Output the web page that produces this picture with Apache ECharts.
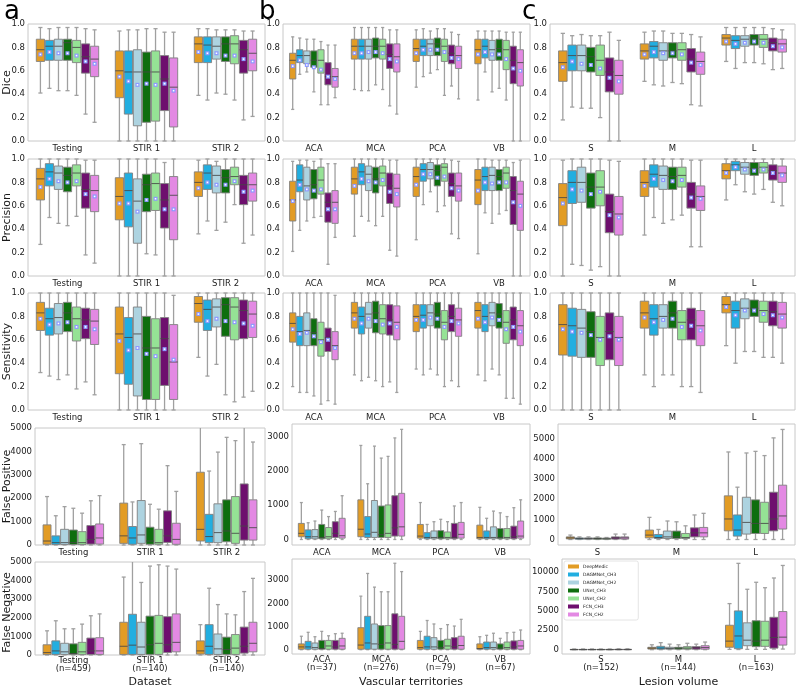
<!DOCTYPE html>
<html><head><meta charset="utf-8">
<script src="https://cdn.jsdelivr.net/npm/echarts@6/dist/echarts.min.js"></script>
<style>html,body{margin:0;padding:0;background:#fff}#c{width:798px;height:689px}</style>
</head><body><div id="c"></div><script>
// ---------- categories / labels ----------
const methods = ['DeepMedic','DAGMNet_CH3','DAGMNet_CH2','UNet_CH3','UNet_CH2','FCN_CH3','FCN_CH2'];
const methodColors = ['#E29C25','#22AEE0','#ADD3E0','#0E6E0E','#95E295','#6E0F6E','#E389E3'];
const datasetCats = ['Testing','STIR 1','STIR 2'];
const vascularCats = ['ACA','MCA','PCA','VB'];
const lesionCats = ['S','M','L'];
const datasetN = [459,140,140];
const vascularN = [37,276,79,67];
const lesionN = [152,144,163];
const rowNames = ['Dice','Precision','Sensitivity','False Positive','False Negative'];
const colXNames = ['Dataset','Vascular territories','Lesion volume'];
const panelLetters = ['a','b','c'];
const ticksFpB = [0,1000,2000,3000];
const ticksFpAC = [0,1000,2000,3000,4000,5000];
const ticksFnB = [0,1000,2000,3000];
const ticksFnC = [0,2500,5000,7500,10000];

// ---------- values: per method, per category: [lowWhisker, q1, median, q3, highWhisker, mean] ----------
const diceA = [
 [[0.41,0.68,0.78,0.87,0.97,0.74],[0,0.37,0.60,0.77,0.94,0.55],[0.39,0.67,0.83,0.89,0.96,0.76]],
 [[0.45,0.69,0.81,0.86,0.96,0.76],[0,0.23,0.59,0.77,0.95,0.51],[0.35,0.67,0.82,0.89,0.96,0.75]],
 [[0.43,0.69,0.81,0.87,0.97,0.75],[0,0.13,0.59,0.78,0.95,0.48],[0.41,0.70,0.81,0.89,0.95,0.75]],
 [[0.43,0.69,0.84,0.87,0.97,0.75],[0,0.16,0.59,0.76,0.96,0.49],[0.40,0.68,0.83,0.89,0.95,0.73]],
 [[0.39,0.67,0.80,0.86,0.97,0.73],[0,0.17,0.59,0.77,0.96,0.48],[0.35,0.66,0.83,0.90,0.95,0.73]],
 [[0.23,0.58,0.72,0.83,0.96,0.68],[0,0.26,0.53,0.73,0.93,0.49],[0.18,0.58,0.78,0.86,0.94,0.70]],
 [[0.16,0.55,0.70,0.81,0.95,0.66],[0,0.12,0.46,0.71,0.93,0.43],[0.21,0.60,0.75,0.87,0.94,0.68]]
];
const diceB = [
 [[0.27,0.53,0.69,0.75,0.89,0.64],[0.44,0.70,0.81,0.87,0.97,0.75],[0.46,0.68,0.79,0.87,0.95,0.75],[0.35,0.66,0.78,0.87,0.94,0.74]],
 [[0.57,0.67,0.73,0.78,0.88,0.69],[0.43,0.70,0.81,0.87,0.97,0.75],[0.55,0.73,0.81,0.87,0.96,0.78],[0.59,0.71,0.81,0.87,0.94,0.76]],
 [[0.59,0.66,0.73,0.77,0.87,0.65],[0.43,0.70,0.81,0.87,0.97,0.76],[0.58,0.73,0.83,0.87,0.94,0.78],[0.42,0.69,0.78,0.86,0.94,0.74]],
 [[0.42,0.63,0.69,0.77,0.87,0.63],[0.48,0.71,0.81,0.88,0.97,0.76],[0.61,0.73,0.83,0.88,0.96,0.78],[0.45,0.69,0.79,0.87,0.94,0.74]],
 [[0.31,0.58,0.69,0.78,0.85,0.61],[0.44,0.70,0.81,0.87,0.97,0.75],[0.39,0.68,0.81,0.87,0.96,0.76],[0.35,0.61,0.78,0.86,0.93,0.70]],
 [[0.31,0.48,0.55,0.67,0.82,0.55],[0.30,0.62,0.74,0.83,0.95,0.70],[0.47,0.66,0.75,0.82,0.93,0.71],[0,0.49,0.69,0.81,0.93,0.62]],
 [[0.37,0.46,0.55,0.62,0.82,0.53],[0.23,0.59,0.72,0.83,0.95,0.68],[0.36,0.62,0.73,0.81,0.91,0.70],[0,0.47,0.67,0.78,0.93,0.60]]
];
const diceC = [
 [[0.18,0.51,0.67,0.77,0.92,0.63],[0.51,0.70,0.77,0.83,0.93,0.74],[0.68,0.82,0.88,0.91,0.97,0.85]],
 [[0.29,0.60,0.73,0.82,0.90,0.68],[0.48,0.71,0.81,0.85,0.94,0.76],[0.62,0.79,0.86,0.90,0.97,0.83]],
 [[0.28,0.60,0.73,0.82,0.91,0.66],[0.47,0.69,0.77,0.84,0.94,0.75],[0.67,0.81,0.87,0.90,0.97,0.84]],
 [[0.28,0.59,0.72,0.80,0.90,0.65],[0.50,0.71,0.77,0.84,0.92,0.75],[0.67,0.82,0.88,0.91,0.97,0.85]],
 [[0.20,0.56,0.69,0.82,0.90,0.62],[0.49,0.69,0.78,0.84,0.92,0.74],[0.66,0.80,0.87,0.91,0.97,0.84]],
 [[0,0.42,0.59,0.71,0.93,0.54],[0.31,0.59,0.70,0.79,0.91,0.67],[0.61,0.77,0.84,0.88,0.96,0.81]],
 [[0,0.40,0.56,0.69,0.86,0.51],[0.30,0.57,0.68,0.76,0.89,0.65],[0.62,0.76,0.83,0.87,0.95,0.80]]
];
const precA = [
 [[0.27,0.65,0.83,0.92,1.0,0.76],[0,0.48,0.68,0.84,1.0,0.62],[0.36,0.68,0.80,0.89,0.99,0.75]],
 [[0.50,0.77,0.89,0.96,1.0,0.83],[0,0.42,0.73,0.88,1.0,0.62],[0.47,0.74,0.88,0.95,1.0,0.80]],
 [[0.45,0.74,0.88,0.94,1.0,0.81],[0,0.28,0.64,0.83,1.0,0.55],[0.39,0.71,0.86,0.94,0.98,0.78]],
 [[0.43,0.72,0.86,0.93,1.0,0.80],[0.19,0.55,0.78,0.87,1.0,0.65],[0.46,0.71,0.84,0.91,1.0,0.78]],
 [[0.51,0.77,0.88,0.95,1.0,0.81],[0.18,0.56,0.79,0.88,1.0,0.66],[0.61,0.78,0.85,0.93,1.0,0.81]],
 [[0.18,0.58,0.74,0.88,0.99,0.70],[0,0.41,0.65,0.79,0.97,0.57],[0.28,0.61,0.78,0.86,1.0,0.72]],
 [[0.11,0.55,0.73,0.86,0.99,0.68],[0,0.31,0.69,0.85,1.0,0.57],[0.35,0.64,0.78,0.88,1.0,0.73]]
];
const precB = [
 [[0.21,0.47,0.65,0.81,0.98,0.64],[0.34,0.70,0.83,0.93,1.0,0.77],[0.31,0.68,0.85,0.93,1.0,0.78],[0.19,0.61,0.82,0.91,1.0,0.73]],
 [[0.39,0.72,0.82,0.95,0.99,0.78],[0.51,0.78,0.89,0.96,1.0,0.83],[0.61,0.81,0.91,0.96,1.0,0.87],[0.54,0.73,0.85,0.93,1.0,0.80]],
 [[0.47,0.65,0.77,0.93,0.99,0.74],[0.47,0.73,0.87,0.94,1.0,0.81],[0.72,0.83,0.91,0.97,1.0,0.87],[0.45,0.73,0.86,0.93,0.99,0.79]],
 [[0.50,0.66,0.78,0.91,0.98,0.73],[0.43,0.71,0.83,0.93,1.0,0.80],[0.55,0.77,0.90,0.95,1.0,0.84],[0.53,0.73,0.85,0.91,0.99,0.80]],
 [[0.51,0.70,0.82,0.93,1.0,0.74],[0.51,0.77,0.88,0.94,1.0,0.82],[0.60,0.81,0.93,0.96,1.0,0.85],[0.56,0.75,0.88,0.93,0.99,0.80]],
 [[0.10,0.46,0.63,0.71,0.96,0.57],[0.22,0.62,0.77,0.88,0.99,0.72],[0.36,0.68,0.79,0.88,0.99,0.75],[0,0.44,0.73,0.85,0.97,0.63]],
 [[0.33,0.45,0.63,0.73,0.96,0.57],[0.17,0.59,0.75,0.87,0.99,0.70],[0.32,0.64,0.77,0.88,0.98,0.73],[0,0.39,0.70,0.81,0.99,0.60]]
];
const precC = [
 [[0,0.43,0.67,0.79,0.99,0.62],[0.35,0.68,0.80,0.90,1.0,0.77],[0.65,0.83,0.90,0.96,1.0,0.88]],
 [[0.10,0.62,0.80,0.90,1.0,0.74],[0.50,0.76,0.87,0.95,1.0,0.83],[0.78,0.90,0.95,0.98,1.0,0.93]],
 [[0.09,0.63,0.80,0.93,1.0,0.73],[0.45,0.74,0.86,0.94,1.0,0.82],[0.72,0.87,0.93,0.97,1.0,0.91]],
 [[0.05,0.58,0.76,0.88,1.0,0.70],[0.48,0.74,0.85,0.93,1.0,0.81],[0.70,0.86,0.92,0.97,1.0,0.90]],
 [[0.08,0.60,0.76,0.90,1.0,0.72],[0.52,0.76,0.86,0.93,1.0,0.82],[0.74,0.88,0.93,0.97,1.0,0.91]],
 [[0,0.37,0.55,0.70,0.99,0.52],[0.25,0.58,0.70,0.80,0.99,0.67],[0.63,0.82,0.90,0.95,1.0,0.88]],
 [[0,0.35,0.53,0.68,0.98,0.50],[0.25,0.56,0.68,0.77,0.99,0.66],[0.60,0.80,0.88,0.94,1.0,0.86]]
];
const sensA = [
 [[0.32,0.68,0.83,0.92,1.0,0.78],[0,0.31,0.65,0.88,1.0,0.59],[0.45,0.75,0.91,0.97,1.0,0.82]],
 [[0.29,0.64,0.78,0.87,1.0,0.73],[0,0.22,0.62,0.79,1.0,0.51],[0.29,0.68,0.86,0.94,1.0,0.76]],
 [[0.26,0.65,0.79,0.91,1.0,0.74],[0,0.12,0.65,0.88,1.0,0.53],[0.39,0.71,0.88,0.95,1.0,0.78]],
 [[0.30,0.67,0.83,0.92,1.0,0.75],[0,0.09,0.53,0.80,1.0,0.48],[0.13,0.63,0.90,0.96,1.0,0.76]],
 [[0.18,0.59,0.78,0.88,1.0,0.71],[0,0.09,0.53,0.78,1.0,0.46],[0.07,0.60,0.88,0.96,1.0,0.75]],
 [[0.24,0.61,0.77,0.87,1.0,0.71],[0,0.21,0.61,0.79,1.0,0.52],[0.11,0.61,0.85,0.94,1.0,0.74]],
 [[0.13,0.56,0.76,0.86,1.0,0.69],[0,0.09,0.41,0.73,0.98,0.43],[0.16,0.62,0.82,0.93,1.0,0.72]]
];
const sensB = [
 [[0.20,0.58,0.74,0.83,1.0,0.69],[0.30,0.70,0.83,0.92,1.0,0.78],[0.35,0.67,0.80,0.90,1.0,0.77],[0.30,0.70,0.85,0.92,1.0,0.78]],
 [[0.15,0.55,0.67,0.80,1.0,0.65],[0.25,0.65,0.80,0.88,1.0,0.74],[0.30,0.70,0.81,0.90,1.0,0.77],[0.25,0.67,0.80,0.90,1.0,0.75]],
 [[0.15,0.55,0.68,0.83,1.0,0.66],[0.28,0.70,0.82,0.92,1.0,0.78],[0.35,0.72,0.83,0.90,1.0,0.79],[0.35,0.72,0.83,0.92,1.0,0.79]],
 [[0.12,0.55,0.66,0.78,1.0,0.63],[0.25,0.66,0.83,0.93,1.0,0.76],[0.30,0.70,0.82,0.92,1.0,0.78],[0.30,0.70,0.82,0.91,1.0,0.77]],
 [[0.05,0.46,0.60,0.75,1.0,0.58],[0.20,0.65,0.78,0.90,1.0,0.73],[0.20,0.60,0.75,0.85,1.0,0.71],[0.10,0.57,0.75,0.85,1.0,0.69]],
 [[0.08,0.50,0.62,0.70,1.0,0.60],[0.24,0.64,0.77,0.90,1.0,0.74],[0.25,0.67,0.80,0.90,1.0,0.76],[0.10,0.60,0.77,0.88,1.0,0.71]],
 [[0.05,0.43,0.55,0.67,0.98,0.53],[0.15,0.60,0.75,0.89,1.0,0.71],[0.20,0.63,0.77,0.87,1.0,0.74],[0.05,0.55,0.72,0.85,1.0,0.67]]
];
const sensC = [
 [[0,0.47,0.73,0.90,1.0,0.69],[0.30,0.70,0.83,0.93,1.0,0.79],[0.55,0.83,0.90,0.97,1.0,0.88]],
 [[0,0.46,0.72,0.87,1.0,0.67],[0.20,0.64,0.78,0.90,1.0,0.75],[0.40,0.70,0.85,0.93,1.0,0.81]],
 [[0,0.45,0.70,0.86,1.0,0.66],[0.30,0.70,0.80,0.90,1.0,0.77],[0.50,0.78,0.87,0.95,1.0,0.85]],
 [[0,0.45,0.67,0.84,1.0,0.64],[0.30,0.70,0.83,0.93,1.0,0.78],[0.50,0.80,0.87,0.94,1.0,0.85]],
 [[0,0.38,0.62,0.80,1.0,0.60],[0.20,0.60,0.75,0.85,1.0,0.71],[0.45,0.75,0.85,0.93,1.0,0.82]],
 [[0,0.43,0.67,0.83,1.0,0.63],[0.20,0.60,0.77,0.87,1.0,0.72],[0.45,0.72,0.84,0.93,1.0,0.81]],
 [[0,0.38,0.62,0.80,1.0,0.60],[0.15,0.55,0.72,0.85,1.0,0.68],[0.40,0.70,0.82,0.92,1.0,0.79]]
];
// FP / FN: [lowWhisker, q1, median, q3, highWhisker]
const fpA = [
 [[0,30,170,860,2070],[0,70,390,1790,4290],[0,170,670,3110,5600]],
 [[0,20,100,390,1250],[0,30,300,790,1840],[0,100,360,1310,3160]],
 [[0,20,100,670,1640],[0,70,430,1900,4330],[0,100,530,1760,3970]],
 [[0,20,100,640,1570],[0,30,170,760,1740],[0,140,600,1930,4600]],
 [[0,20,100,570,1360],[0,30,100,670,1530],[0,70,500,2070,4460]],
 [[0,40,240,830,1890],[0,110,390,1460,3390],[0,210,810,2610,5600]],
 [[0,40,300,900,2110],[0,30,240,930,2290],[0,210,740,1930,4400]]
];
const fpB = [
 [[0,80,180,470,1080],[0,80,300,1160,2750],[0,40,100,440,1080],[0,20,60,420,940]],
 [[0,20,80,280,490],[0,60,160,670,1630],[0,20,60,200,440],[0,20,60,250,620]],
 [[0,20,80,290,540],[0,60,210,1140,2730],[0,20,60,250,520],[0,20,60,370,830]],
 [[0,20,60,440,860],[0,60,140,980,2380],[0,20,60,260,590],[0,20,60,320,780]],
 [[0,20,80,350,670],[0,60,180,1010,2430],[0,20,60,220,520],[0,20,60,320,670]],
 [[0,60,180,520,820],[0,100,340,1280,2970],[0,20,60,470,980],[0,20,80,390,930]],
 [[0,40,110,620,1280],[0,100,370,1350,3220],[0,40,150,500,1080],[0,40,100,540,1160]]
];
const fpC = [
 [[0,30,80,130,220],[0,80,220,470,1100],[0,430,1020,2170,4350]],
 [[0,10,50,80,130],[0,50,100,250,500],[0,170,470,1220,2600]],
 [[0,10,50,80,130],[0,50,130,420,920],[0,270,850,2100,4300]],
 [[0,10,50,80,130],[0,50,130,420,880],[0,300,800,1970,4380]],
 [[0,10,40,70,100],[0,50,100,300,680],[0,300,800,1850,4170]],
 [[0,20,80,130,270],[0,130,330,580,1220],[0,430,1020,2350,5050]],
 [[0,20,80,130,270],[0,130,330,600,1300],[0,520,1170,2700,5470]]
];
const fnA = [
 [[0,30,130,550,1300],[0,30,470,1760,4190],[0,50,220,760,1630]],
 [[0,30,220,760,1840],[0,30,530,2190,5500],[0,30,470,1630,3590]],
 [[0,30,170,630,1410],[0,30,430,1760,3900],[0,30,330,1130,2710]],
 [[0,30,80,600,1410],[0,30,550,2090,4780],[0,30,300,960,2210]],
 [[0,30,170,680,1660],[0,30,630,2130,4850],[0,30,370,1100,2160]],
 [[0,30,220,910,2110],[0,130,550,2060,4780],[0,100,470,1500,3410]],
 [[0,30,220,930,2210],[0,170,680,2210,4620],[0,170,630,1760,4120]]
];
const fnB = [
 [[0,20,120,250,580],[0,20,200,950,2310],[0,20,90,400,790],[0,20,50,250,560]],
 [[0,20,120,360,750],[0,20,290,1440,3290],[0,20,120,580,1260],[0,20,90,330,620]],
 [[0,20,90,290,560],[0,20,250,1110,2700],[0,20,120,520,1110],[0,20,90,330,710]],
 [[0,20,50,400,790],[0,20,230,1040,2500],[0,20,90,400,910],[0,20,70,250,490]],
 [[0,20,160,400,600],[0,20,290,1040,2500],[0,20,160,450,1080],[0,20,90,330,730]],
 [[0,20,120,400,690],[0,20,230,1550,3730],[0,20,130,520,1020],[0,20,120,380,750]],
 [[0,20,160,490,710],[0,20,360,1440,3370],[0,20,180,580,1310],[0,20,160,400,850]]
];
const fnC = [
 [[0,10,20,40,90],[0,80,200,310,630],[40,310,1100,3140,5920]],
 [[0,10,20,40,90],[0,60,200,430,900],[20,120,1760,4980,11090]],
 [[0,10,20,40,90],[0,60,160,310,710],[40,510,1220,3450,7760]],
 [[0,10,20,40,90],[0,60,200,310,630],[40,390,1100,3720,8660]],
 [[0,10,20,40,90],[0,60,200,390,820],[40,430,1220,3650,7960]],
 [[0,10,25,50,110],[0,60,240,390,710],[80,200,1570,4160,9210]],
 [[0,10,25,50,110],[0,60,270,510,980],[80,590,1610,4900,10820]]
];

// ---------- layout ----------
const FONT = 'DejaVu Sans';
const TXT = '#1a1a1a';
const colCats = [datasetCats, vascularCats, lesionCats];
const colN = [datasetN, vascularN, lesionN];
const rowData = [[diceA,diceB,diceC],[precA,precB,precC],[sensA,sensB,sensC],[fpA,fpB,fpC],[fnA,fnB,fnC]];
// grid rects [left, top, width, height]
const rects = [
 [[28,24,237,117],[283,24,247,117],[550,24,245,117]],
 [[28,159,237,117],[283,159,247,117],[550,159,245,117]],
 [[28,293,237,117],[283,293,247,117],[550,293,245,117]],
 [[35,428,230,117],[292,424,238,121],[558,424,237,121]],
 [[35,562,230,101],[292,559,238,103],[562,559,233,103]]
];
const yCfg = [
 null,null,null,
 [{min:0,max:5000,vals:ticksFpAC},{min:-161,max:3377,vals:ticksFpB},{min:-273,max:5740,vals:ticksFpAC}],
 [{min:0,max:5000,vals:ticksFpAC},{min:-186,max:3914,vals:ticksFnB},{min:-555,max:11650,vals:ticksFnC}]
];

const grids = [], xAxes = [], yAxes = [], series = [];
let gi = 0;
for (let r = 0; r < 5; r++) {
  for (let c = 0; c < 3; c++) {
    const [l, t, w, h] = rects[r][c];
    grids.push({left: l, top: t, width: w, height: h, show: true, borderColor: '#c8c8c8', borderWidth: 1, containLabel: false});
    const cats = r === 4 ? colCats[c].map((s, i) => s + '\n(n=' + colN[c][i] + ')') : colCats[c];
    xAxes.push({
      type: 'category', gridIndex: gi, data: cats, boundaryGap: true,
      axisLine: {show: false}, axisTick: {show: false}, splitLine: {show: false},
      axisLabel: {margin: r === 4 ? 1.5 : 2, fontSize: 8.5, color: TXT, fontFamily: FONT, lineHeight: r === 4 ? 8.5 : 11, interval: 0},
      name: r === 4 ? colXNames[c] : '', nameLocation: 'middle', nameMoveOverlap: false,
      nameGap: r === 4 ? (c === 0 ? 22 : 23) : 0,
      nameTextStyle: {fontSize: 11, color: TXT, fontFamily: FONT}
    });
    if (r < 3) {
      yAxes.push({type: 'value', gridIndex: gi, min: 0, max: 1, interval: 0.2,
        axisLine: {show: false}, axisTick: {show: false}, splitLine: {show: false},
        axisLabel: {margin: 3, fontSize: 8.5, color: TXT, fontFamily: FONT, formatter: v => v.toFixed(1)}});
    } else {
      const y = yCfg[r][c];
      yAxes.push({type: 'value', gridIndex: gi, min: y.min, max: y.max,
        axisLine: {show: false}, axisTick: {show: false}, splitLine: {show: false},
        axisLabel: {margin: 3, fontSize: 8.5, color: TXT, fontFamily: FONT, customValues: y.vals, formatter: v => String(v)}});
    }
    const withMean = r < 3;
    const pdata = rowData[r][c];
    methods.forEach((m, mi) => {
      series.push({
        type: 'custom', name: m, xAxisIndex: gi, yAxisIndex: gi,
        itemStyle: {color: methodColors[mi]},
        encode: {x: 0, y: [1, 2, 3, 4, 5]},
        data: pdata[mi].map((v, ci) => [ci].concat(v)),
        renderItem: makeRender(mi, methods.length, withMean, methodColors[mi]),
        silent: true
      });
    });
    gi++;
  }
}

function makeRender(mi, nM, withMean, color) {
  return function (params, api) {
    const cat = api.value(0);
    const cs = params.coordSys;
    const band = api.size([1, 0])[0];
    const group = band * 0.8;
    const slot = group / nM;
    const cx = api.coord([cat, 0])[0] - group / 2 + slot * (mi + 0.5);
    const bw = Math.max(slot - 0.8, 1);
    const top = cs.y, bot = cs.y + cs.height;
    const clamp = y => Math.min(Math.max(y, top), bot);
    const Y = i => api.coord([cat, api.value(i)])[1];
    const yLo = Y(1), yQ1 = Y(2), yMed = Y(3), yQ3 = Y(4), yHi = Y(5);
    const ws = {stroke: '#a0a0a0', lineWidth: 1.3};
    const ch = [];
    ch.push({type: 'line', shape: {x1: cx, y1: clamp(yQ1), x2: cx, y2: clamp(yLo)}, style: ws});
    ch.push({type: 'line', shape: {x1: cx, y1: clamp(yQ3), x2: cx, y2: clamp(yHi)}, style: ws});
    const cw = bw * 0.5;
    if (yLo > top && yLo < bot + 0.5) ch.push({type: 'line', shape: {x1: cx - cw / 2, y1: yLo, x2: cx + cw / 2, y2: yLo}, style: ws});
    if (yHi > top - 0.5 && yHi < bot) ch.push({type: 'line', shape: {x1: cx - cw / 2, y1: yHi, x2: cx + cw / 2, y2: yHi}, style: ws});
    const bt = clamp(yQ3), bb = clamp(yQ1);
    ch.push({type: 'rect', shape: {x: cx - bw / 2, y: bt, width: bw, height: Math.max(bb - bt, 0.5)},
      style: {fill: color, stroke: '#808080', lineWidth: 0.9}});
    ch.push({type: 'line', shape: {x1: cx - bw / 2, y1: yMed, x2: cx + bw / 2, y2: yMed},
      style: {stroke: 'rgba(70,70,70,0.85)', lineWidth: 1}});
    if (withMean) {
      const ym = api.coord([cat, api.value(6)])[1];
      ch.push({type: 'rect', shape: {x: cx - 2, y: ym - 2, width: 4, height: 4}, style: {fill: '#8d99ff'}});
      ch.push({type: 'rect', shape: {x: cx - 0.8, y: ym - 0.8, width: 1.6, height: 1.6}, style: {fill: '#ffffff'}});
    }
    return {type: 'group', children: ch};
  };
}

const nameY = [82.5, 217.5, 351.5, 486.5, 612.5];
const graphics = [];
rowNames.forEach((n, i) => graphics.push({type: 'text', x: 7.5, y: nameY[i], rotation: Math.PI / 2,
  style: {text: n, fontSize: 11, fill: TXT, fontFamily: FONT, align: 'center', verticalAlign: 'middle'}}));
const letterX = [4, 259, 522];
panelLetters.forEach((t, i) => graphics.push({type: 'text', x: letterX[i], y: 12,
  style: {text: t, fontSize: 26, fill: '#000', fontFamily: FONT, align: 'left', verticalAlign: 'middle'}}));

const chart = echarts.init(document.getElementById('c'), null, {renderer: 'canvas'});
chart.setOption({
  animation: false,
  backgroundColor: '#ffffff',
  grid: grids, xAxis: xAxes, yAxis: yAxes, series: series,
  graphic: graphics,
  legend: {
    data: methods, orient: 'vertical', left: 564, top: 561,
    itemWidth: 11, itemHeight: 4, itemGap: 3, icon: 'rect',
    padding: [3, 22, 3, 4], backgroundColor: '#ffffff', borderColor: '#dddddd', borderWidth: 0.8, borderRadius: 2,
    textStyle: {fontSize: 4.5, color: TXT, fontFamily: FONT, lineHeight: 4, padding: [0, 0, 0, -1]},
    selectedMode: false
  }
});
</script></body></html>
